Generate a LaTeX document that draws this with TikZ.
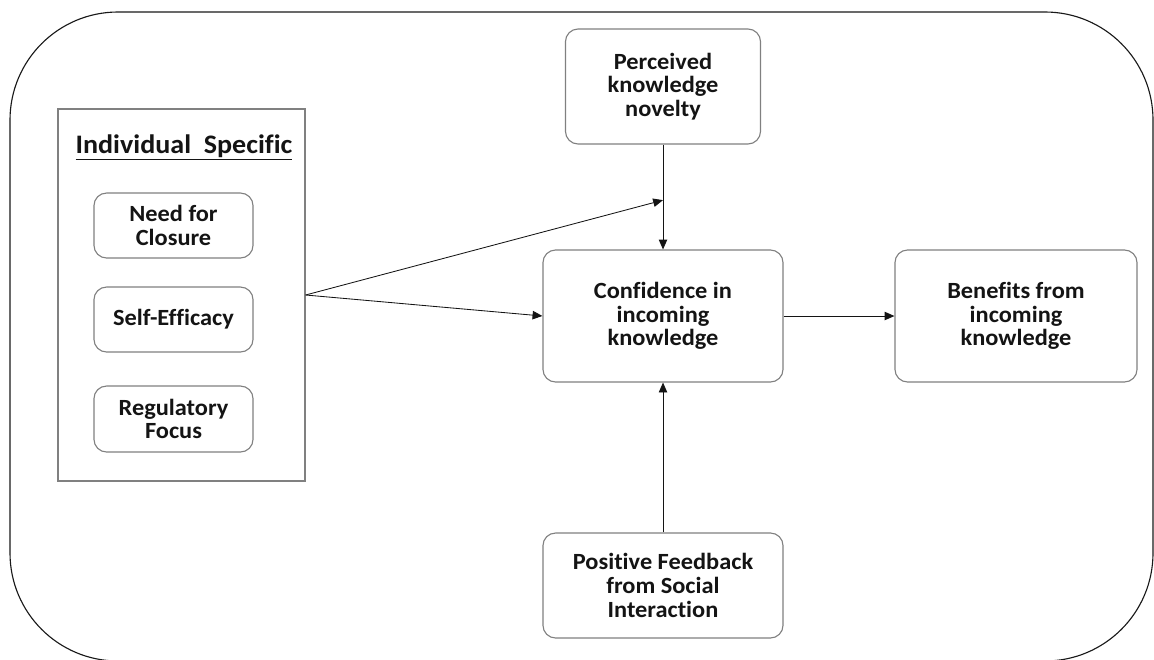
\documentclass[tikz,border=0pt]{standalone}
\usepackage{fontspec}
\setmainfont{Carlito}[FakeStretch=1.05,Ligatures=NoCommon]
\usetikzlibrary{arrows.meta,calc}
\definecolor{FrameBlack}{RGB}{25,25,25}
\definecolor{BoxGray}{RGB}{128,128,128}
\definecolor{InkBlack}{RGB}{20,20,20}
\tikzset{
  flow/.style={-{Triangle[length=7pt,width=6pt]},semithick,draw=InkBlack},
  frame/.style={draw=FrameBlack,line width=0.8pt,rounded corners=2.7cm},
  box/.style={draw=BoxGray,thick,rounded corners=9pt,fill=white,align=center,
    inner sep=0pt,text=InkBlack,font=\fontsize{16.5}{16.9}\selectfont\bfseries},
  groupbox/.style={draw=BoxGray,thick,inner sep=0pt,minimum width=6.175cm,minimum height=9.3cm},
  smallbox/.style={box,minimum width=3.975cm,minimum height=1.625cm},
  headline/.style={inner sep=0pt,text=InkBlack,font=\fontsize{19}{21}\selectfont\bfseries}
}
\begin{document}
\begin{tikzpicture}[x=0.025cm,y=-0.025cm]
  \useasboundingbox (0,0) rectangle (1154,659);
  \draw[frame] (10,12) rectangle (1153,661);

  % individual specific group
  \node[groupbox] (indiv) at (181.5,295) {};
  \node[headline,anchor=base] (head) at (184,153) {\underline{Individual\ \ Specific}};
  \node[smallbox] (closure) at (173.5,225.5) {Need for\\Closure};
  \node[smallbox] (efficacy) at (173.5,319.5) {Self-Efficacy};
  \node[smallbox,minimum height=1.65cm] (focus) at (173.5,419) {Regulatory\\Focus};

  % main chain
  \node[box,minimum width=4.875cm,minimum height=2.875cm] (novelty) at (663,86.5) {Perceived\\knowledge\\novelty};
  \node[box,minimum width=6cm,minimum height=3.3cm] (conf) at (663,316) {Confidence in\\incoming\\knowledge};
  \node[box,minimum width=6.05cm,minimum height=3.3cm] (benefit) at (1016,316) {Benefits from\\incoming\\knowledge};
  \node[box,minimum width=6cm,minimum height=2.625cm] (feedback) at (663,585.5) {Positive Feedback\\from Social\\Interaction};

  \coordinate (meet) at ($(novelty.south)!0.53!(conf.north)$);
  \draw[flow] (novelty) -- (conf);
  \draw[flow] (indiv.east) -- (meet);
  \draw[flow] (indiv.east) -- (conf.west);
  \draw[flow] (conf) -- (benefit);
  \draw[flow] (feedback) -- (conf);
\end{tikzpicture}
\end{document}
